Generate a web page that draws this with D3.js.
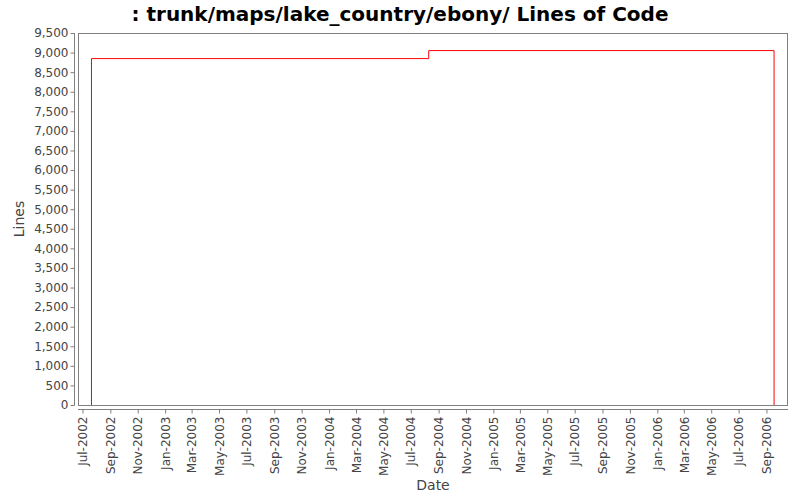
<!DOCTYPE html>
<html><head><meta charset="utf-8">
<script src="https://cdn.jsdelivr.net/npm/d3@7"></script>
<style>body{margin:0;background:#fff}</style>
</head><body>
<svg id="c" width="800" height="500"></svg>
<script>
const title = ": trunk/maps/lake_country/ebony/ Lines of Code";
const dates = ["2002-07-21","2002-07-21","2004-08-10","2006-09-18","2006-09-18"];
const values = [0, 8846, 9051, 9051, 0];
const xTickLabels = ["Jul-2002","Sep-2002","Nov-2002","Jan-2003","Mar-2003","May-2003","Jul-2003","Sep-2003","Nov-2003","Jan-2004","Mar-2004","May-2004","Jul-2004","Sep-2004","Nov-2004","Jan-2005","Mar-2005","May-2005","Jul-2005","Sep-2005","Nov-2005","Jan-2006","Mar-2006","May-2006","Jul-2006","Sep-2006"];
const yTicks = d3.range(0, 9501, 500);

const svg = d3.select("#c");
const L = 78, R = 788, T = 33, B = 405;
const parse = d3.timeParse("%Y-%m-%d");
const fmtIn = d3.timeParse("%b-%Y");
const x = d3.scaleTime().domain([parse("2002-06-21"), parse("2006-10-19")]).range([L, R]);
const y = d3.scaleLinear().domain([0, 9500]).range([B, T]);

const font = "'DejaVu Sans', sans-serif";

// title
svg.append("text").attr("x", 400).attr("y", 21).attr("text-anchor","middle")
  .style("font-family", font).style("font-weight","bold").style("font-size","20px")
  .attr("fill","#000").text(title);

// plot background/border
svg.append("rect").attr("x", L+0.5).attr("y", T+0.5).attr("width", R-L-1).attr("height", B-T)
  .attr("fill","#fff").attr("stroke","#808080").attr("stroke-width",1);

// y axis
const yAxis = d3.axisLeft(y).tickValues(yTicks).tickSize(4).tickPadding(2).tickFormat(d3.format(","));
const gy = svg.append("g").attr("transform", `translate(${74.5},0)`).call(yAxis);
gy.select(".domain").attr("stroke","#808080").attr("d", `M0,${T}V${B+0.5}`);
gy.selectAll(".tick line").attr("stroke","#808080");
gy.selectAll(".tick text").attr("fill","#444").style("font-family", font).style("font-size","12px");

// x axis
const xt = xTickLabels.map(s => fmtIn(s));
const xAxis = d3.axisBottom(x).tickValues(xt).tickSize(4).tickFormat(d3.timeFormat("%b-%Y"));
const gx = svg.append("g").attr("transform", `translate(0,${409.5})`).call(xAxis);
gx.select(".domain").attr("stroke","#808080").attr("d", `M${L},0H${R}`);
gx.selectAll(".tick line").attr("stroke","#808080");
gx.selectAll(".tick text").attr("fill","#444").style("font-family", font).style("font-size","12px")
  .attr("text-anchor","end").attr("transform","rotate(-90)").attr("x",-7).attr("y",0).attr("dy","0.35em");

// axis labels
svg.append("text").attr("x", (L+R)/2).attr("y", 490).attr("text-anchor","middle")
  .style("font-family", font).style("font-size","14px").attr("fill","#444").text("Date");
svg.append("text").attr("transform", `translate(24,${(T+B)/2}) rotate(-90)`).attr("text-anchor","middle")
  .style("font-family", font).style("font-size","14px").attr("fill","#444").text("Lines");

// line
const data = dates.map((d,i) => ({d: parse(d), v: values[i]}));
const line = d3.line().x(d => x(d.d)).y(d => y(d.v)).curve(d3.curveStepAfter);
svg.append("path").datum(data).attr("d", line).attr("fill","none").attr("stroke","#ff0000").attr("stroke-width",1);
</script>
</body></html>
